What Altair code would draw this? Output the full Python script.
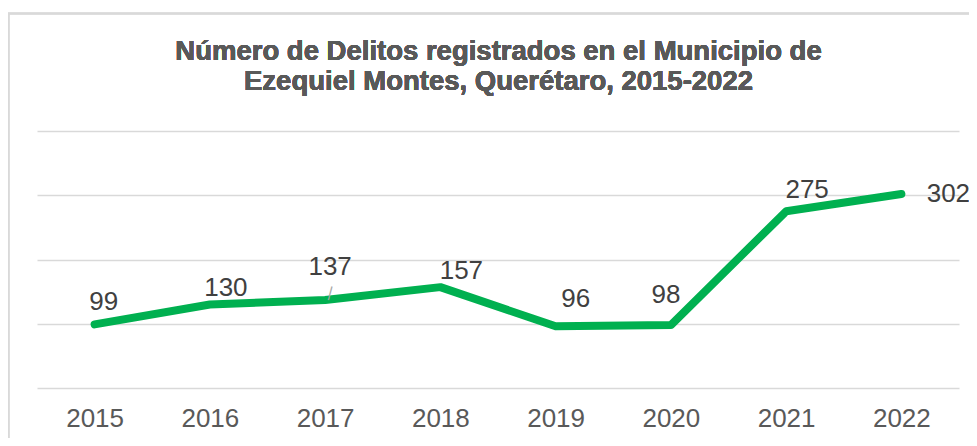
import altair as alt
import pandas as pd

years = ["2015", "2016", "2017", "2018", "2019", "2020", "2021", "2022"]
delitos = [99, 130, 137, 157, 96, 98, 275, 302]
label_dx = [9, 16, 5, 21, 20, -5, 21, 47]
label_dy = [-22, -16, -33, -16, -27, -30, -21, 0]
y_ticks = [0, 100, 200, 300, 400]
title_lines = ["Número de Delitos registrados en el Municipio de", "Ezequiel Montes, Querétaro, 2015-2022"]

df = pd.DataFrame({"year": years, "delitos": delitos})

FONT = "Liberation Sans"
W, H = 922, 257

x = alt.X("year:N", sort=years, title=None,
          axis=alt.Axis(labelAngle=0, labelFontSize=26, labelColor="#595959", labelFont=FONT,
                        domain=False, ticks=False, labelPadding=17),
          scale=alt.Scale(paddingInner=0, paddingOuter=0.5))
y = alt.Y("delitos:Q", title=None,
          scale=alt.Scale(domain=[0, 400]),
          axis=alt.Axis(values=y_ticks, labels=False, domain=False, ticks=False,
                        gridColor="#D9D9D9", gridWidth=1.3))

base = alt.Chart(df)

border = base.mark_rect(fill=None, stroke="#D9D9D9", strokeWidth=1.5).encode(
    x=alt.value(-28.5), x2=alt.value(W + 60), y=alt.value(-117.5), y2=alt.value(H + 200)
)

title_layers = [
    base.mark_text(font=FONT, fontSize=27.5, fontWeight="bold", color="#595959",
                   align="center", baseline="alphabetic").encode(
        x=alt.value(W / 2 + 0.5), y=alt.value(-71 + i * 30), text=alt.value(t)
    )
    for i, t in enumerate(title_lines)
]

line = base.mark_line(color="#00B050", strokeWidth=8, strokeCap="round", strokeJoin="round").encode(
    x=x, y=y
)

leader = base.transform_filter(alt.datum.year == "2017").mark_text(
    text="|", fontSize=15, color="#A6A6A6", angle=15, dx=3, dy=-9, font=FONT
).encode(x=alt.X("year:N", sort=years), y=alt.Y("delitos:Q"))

label_layers = [
    base.transform_filter(alt.datum.year == yr).mark_text(
        fontSize=26, font=FONT, color="#404040", align="center", baseline="middle", dx=dx, dy=dy
    ).encode(x=alt.X("year:N", sort=years), y=alt.Y("delitos:Q"), text="delitos:Q")
    for yr, dx, dy in zip(years, label_dx, label_dy)
]

chart = alt.layer(border, *title_layers, line, leader, *label_layers).properties(
    width=W, height=H,
    padding={"left": 29, "top": 123, "right": 10, "bottom": 50},
    autosize=alt.AutoSizeParams(type="none"),
).configure_view(stroke=None)

chart.save("out.html", embed_options={"renderer": "svg", "actions": False})
